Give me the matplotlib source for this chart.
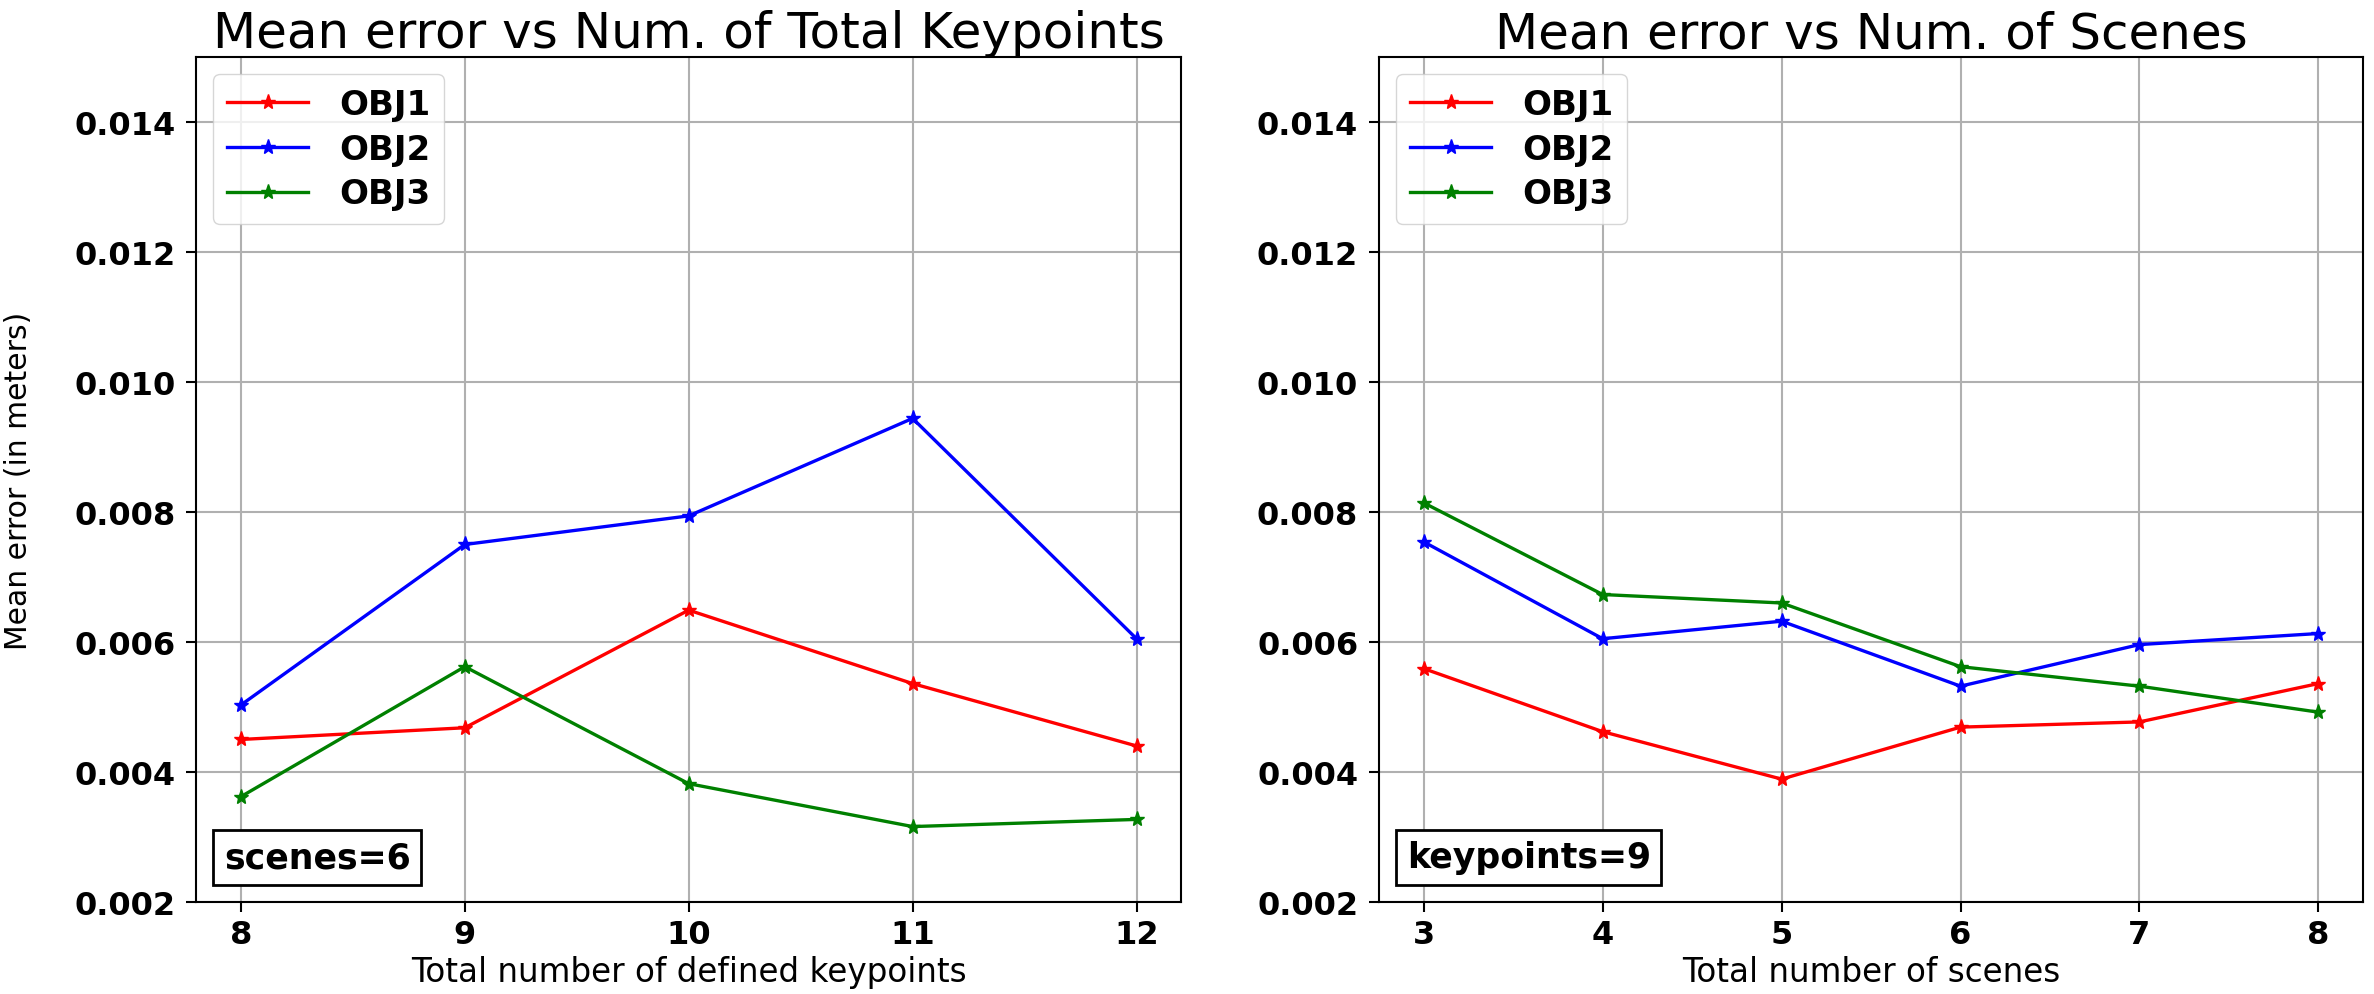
import numpy as np
import matplotlib
matplotlib.use('Agg')
import matplotlib.pyplot as plt
from matplotlib.offsetbox import AnchoredText

# Left panel: error vs number of keypoints (scenes = 6)
keypoints = [8, 9, 10, 11, 12]
kp_obj1 = [0.00450, 0.00468, 0.00649, 0.00536, 0.00440]
kp_obj2 = [0.00503, 0.00750, 0.00794, 0.00944, 0.00605]
kp_obj3 = [0.00362, 0.00562, 0.00382, 0.00316, 0.00327]

# Right panel: error vs number of scenes (keypoints = 9)
scenes = [3, 4, 5, 6, 7, 8]
sc_obj1 = [0.00559, 0.00462, 0.00389, 0.00469, 0.00477, 0.00536]
sc_obj2 = [0.00754, 0.00605, 0.00632, 0.00532, 0.00596, 0.00613]
sc_obj3 = [0.00814, 0.00673, 0.00660, 0.00562, 0.00532, 0.00492]

labels = ['OBJ1', 'OBJ2', 'OBJ3']
colors = ['red', 'blue', 'green']
yticks = [0.002, 0.004, 0.006, 0.008, 0.010, 0.012, 0.014]

plt.rcParams['axes.linewidth'] = 1.5
plt.rcParams['xtick.major.width'] = 1.5
plt.rcParams['ytick.major.width'] = 1.5
plt.rcParams['xtick.major.size'] = 7
plt.rcParams['ytick.major.size'] = 7
plt.rcParams['xtick.major.pad'] = 5
plt.rcParams['ytick.major.pad'] = 8

fig = plt.figure(figsize=(23.74, 9.95), dpi=100)
ax1 = fig.add_axes([0.0826, 0.0925, 0.415, 0.8492])
ax2 = fig.add_axes([0.5809, 0.0925, 0.4145, 0.8492])


def draw_panel(ax, x, series, title, xlabel, note):
    for y, lab, c in zip(series, labels, colors):
        ax.plot(x, y, marker='*', color=c, label=lab, linewidth=2.4, markersize=11)
    ax.set_title(title, fontsize=36, pad=3)
    ax.set_xlabel(xlabel, fontsize=23.5)
    ax.set_ylim(0.002, 0.015)
    ax.set_yticks(yticks)
    ax.set_xticks(x)
    ax.grid(True, color='#b0b0b0', linewidth=1.5)
    for t in ax.get_xticklabels() + ax.get_yticklabels():
        t.set_fontweight('bold')
        t.set_fontsize(23)
    ax.legend(loc='upper left', prop={'weight': 'bold', 'size': 24.5},
              handlelength=2.4, handletextpad=0.9, labelspacing=0.35,
              borderpad=0.4, borderaxespad=0.5)
    at = AnchoredText(note, loc='lower left', prop=dict(weight='bold', size=25),
                      pad=0.3, borderpad=0.5)
    at.patch.set_linewidth(2)
    ax.add_artist(at)


draw_panel(ax1, keypoints, [kp_obj1, kp_obj2, kp_obj3],
           'Mean error vs Num. of Total Keypoints',
           'Total number of defined keypoints', 'scenes=6')
draw_panel(ax2, scenes, [sc_obj1, sc_obj2, sc_obj3],
           'Mean error vs Num. of Scenes',
           'Total number of scenes', 'keypoints=9')

ax1.set_ylabel('Mean error (in meters)', fontsize=21.5)
ax1.yaxis.set_label_coords(-0.166, 0.5)

fig.savefig('out.png', dpi=100)
